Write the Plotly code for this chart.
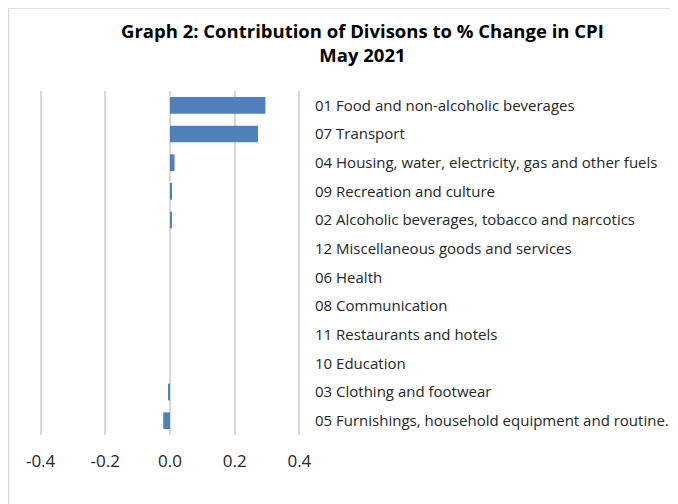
import plotly.graph_objects as go

categories = [
    "01 Food and non-alcoholic beverages",
    "07 Transport",
    "04 Housing, water, electricity, gas and other fuels",
    "09 Recreation and culture",
    "02 Alcoholic beverages, tobacco and narcotics",
    "12 Miscellaneous goods and services",
    "06 Health",
    "08 Communication",
    "11 Restaurants and hotels",
    "10 Education",
    "03 Clothing and footwear",
    "05 Furnishings, household equipment and routine.",
]
values = [0.295, 0.272, 0.014, 0.005, 0.005, 0.0, 0.0, 0.0, 0.0, 0.0, -0.004, -0.021]
tick_vals = [-0.4, -0.2, 0.0, 0.2, 0.4]
tick_text = ["-0.4", "-0.2", "0.0", "0.2", "0.4"]

# page has an 8px body margin; work in figure coordinates
OFF = 8
W, H = 678 - OFF, 504 - OFF
X_LO, X_HI = -0.4, 0.4
PAD = 0.005
scale = (299 - 41) / (X_HI - X_LO)
padpx = PAD * scale
L, R, T, B = 41 - OFF - padpx, 299 - OFF + padpx, 91 - OFF, 435 - OFF
pw, ph = R - L, B - T

def px(x):
    return (x - L) / pw

def py(y):
    return (B - y) / ph

FONT = "Open Sans, Liberation Sans, Arial, sans-serif"

fig = go.Figure(go.Bar(
    x=values, y=categories, orientation="h",
    marker=dict(color="#4f81bd", line=dict(width=0)),
    width=0.58,
))

fig.update_layout(
    width=W, height=H,
    margin=dict(l=L, r=W - R, t=T, b=H - B, autoexpand=False),
    paper_bgcolor="white", plot_bgcolor="white",
    showlegend=False,
    font=dict(family=FONT, color="#262626"),
    xaxis=dict(
        range=[X_LO - PAD, X_HI + PAD], tickvals=tick_vals, ticktext=tick_text,
        showgrid=True, gridcolor="#d9d9d9", gridwidth=2,
        zeroline=False, showline=False, ticks="",
        tickfont=dict(size=17, color="#262626"),
        ticklabelstandoff=14,
    ),
    yaxis=dict(
        side="right", autorange="reversed", showgrid=False, zeroline=False,
        showline=False, ticks="", tickfont=dict(size=15, color="#262626"),
        ticklabelstandoff=int(round(15 - padpx)),
    ),
    shapes=[dict(
        type="rect", xref="paper", yref="paper",
        x0=px(1), x1=px(720), y0=py(540), y1=py(0),
        line=dict(color="#d9d9d9", width=1.5), fillcolor="rgba(0,0,0,0)",
    )],
    annotations=[dict(
        text="<b>Graph 2: Contribution of Divisons to % Change in CPI<br>May 2021</b>",
        xref="paper", yref="paper", x=px(362 - OFF), y=py(43 - OFF),
        xanchor="center", yanchor="middle", showarrow=False,
        font=dict(size=18.5, color="#000000", family=FONT),
    )],
)

fig.write_html("out.html")
